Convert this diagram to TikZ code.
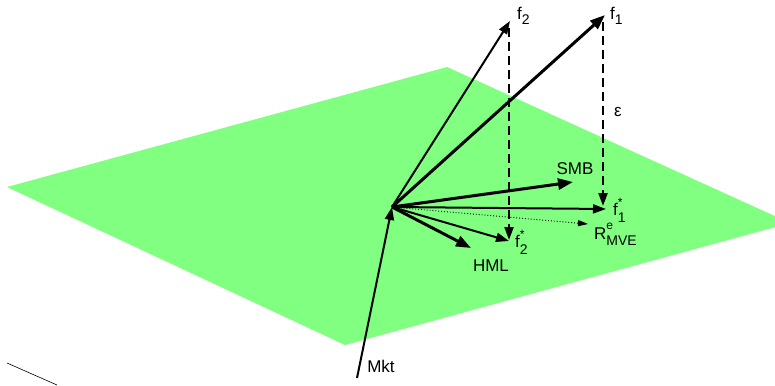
\documentclass[tikz,border=0pt]{standalone}
\usepackage{fontspec}
\setmainfont{Liberation Sans}
\usetikzlibrary{arrows.meta}
\definecolor{planegreen}{RGB}{128,255,128}
\newcommand\subs[1]{\raisebox{-0.6ex}{\fontsize{14}{14}\selectfont #1}}
\newcommand\supsub[2]{\rlap{\raisebox{1.1ex}{\fontsize{12}{12}\selectfont #1}}\raisebox{-0.7ex}{\fontsize{14}{14}\selectfont #2}}
\begin{document}
\begin{tikzpicture}[x=1pt,y=-1pt,
  vec/.style={line width=2pt,-{Triangle[length=13pt,width=9pt]}},
  thickvec/.style={line width=3pt,-{Triangle[length=15pt,width=11pt]}},
  proj/.style={line width=2.2pt,dash pattern=on 9pt off 5pt,-{Triangle[length=13pt,width=9pt]}},
  dotvec/.style={line width=0.9pt,dotted,-{Triangle[length=10pt,width=6pt]}},
  lab/.style={font=\fontsize{17}{17}\selectfont,inner sep=0pt}]
\useasboundingbox (0,0) rectangle (775,385);
\begin{scope}
\clip (0,0) rectangle (775,385);
\fill[planegreen] (7,187) -- (447,67) -- (790,223) -- (345,345) -- cycle;
\end{scope}
% end points
\coordinate (O) at (392,207);
\coordinate (mkt0) at (357,378);
\coordinate (f2) at (510,21);
\coordinate (f1) at (605,15);
\coordinate (f2top) at (509,28);
\coordinate (f1top) at (603,22);
\coordinate (smb) at (573,182);
\coordinate (f1s) at (606,209);
\coordinate (rmve) at (588,224);
\coordinate (f2s) at (509,241);
\coordinate (hml) at (471,248);
\coordinate (ax0) at (7,363);
\coordinate (ax1) at (57,385);
\coordinate (f2b) at (509,240);
\coordinate (f1b) at (603,206);
% connectors
\draw[line width=0.6pt] (ax0) -- (ax1);
\draw[vec] (mkt0) -- (O);
\draw[vec] (O) -- (f2);
\draw[thickvec] (O) -- (f1);
\draw[thickvec] (O) -- (smb);
\draw[vec] (O) -- (f1s);
\draw[dotvec] (O) -- (rmve);
\draw[vec] (O) -- (f2s);
\draw[thickvec] (O) -- (hml);
\draw[proj] (f2top) -- (f2b);
\draw[proj] (f1top) -- (f1b);
% labels
\node[lab,anchor=west] (lf2) at (517,16) {f\subs{2}};
\node[lab,anchor=west] (lf1) at (610,16) {f\subs{1}};
\node[lab] (leps) at (618,112) {ε};
\node[lab] (lsmb) at (575,169) {SMB};
\node[lab,anchor=west] (lf1s) at (613,210) {f\supsub{*}{1}};
\node[lab,anchor=west] (lr) at (594,234) {R\supsub{e}{MVE}};
\node[lab,anchor=west] (lf2s) at (515,242) {f\supsub{*}{2}};
\node[lab] (lhml) at (491,266) {HML};
\node[lab] (lmkt) at (381,366) {Mkt};
\end{tikzpicture}
\end{document}
